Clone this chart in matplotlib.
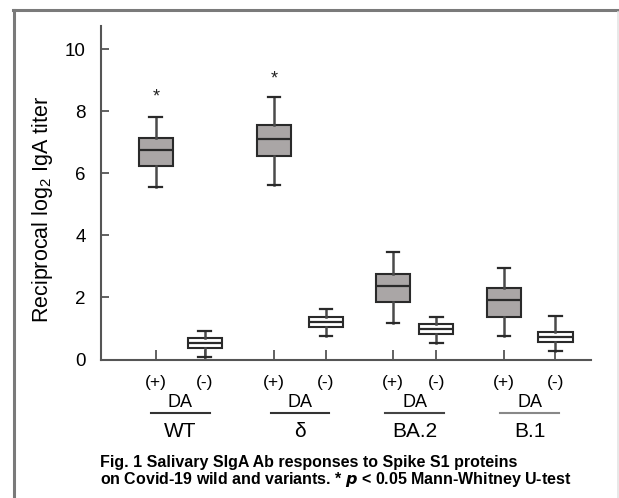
import matplotlib
matplotlib.use("Agg")
import matplotlib.pyplot as plt
from matplotlib.lines import Line2D

plt.rcParams['font.family'] = ['Liberation Sans', 'DejaVu Sans']
plt.rcParams['mathtext.fontset'] = 'custom'
plt.rcParams['mathtext.rm'] = 'Liberation Sans'
plt.rcParams['mathtext.it'] = 'Liberation Sans Narrow:italic:bold'

# box statistics (log2 titer)
groups = ["WT", "δ", "BA.2", "B.1"]
da_labels = ["(+)", "(-)"] * 4
positions = [1.12, 2.12, 3.53, 4.59, 5.96, 6.84, 8.22, 9.27]
whislo = [5.57, 0.09, 5.63, 0.75, 1.19, 0.52, 0.75, 0.27]
q1     = [6.24, 0.38, 6.55, 1.05, 1.84, 0.82, 1.38, 0.57]
med    = [6.76, 0.52, 7.09, 1.21, 2.38, 0.99, 1.92, 0.74]
q3     = [7.15, 0.70, 7.56, 1.37, 2.76, 1.15, 2.31, 0.89]
whishi = [7.80, 0.91, 8.46, 1.63, 3.45, 1.37, 2.96, 1.40]
star_pos = [1.12, 3.53]
star_y = [8.45, 9.05]

fig = plt.figure(figsize=(6.19, 4.98), dpi=100)
ax = fig.add_axes([0.163, 0.278, 0.792, 0.670])

stats = []
for i in range(len(positions)):
    stats.append(dict(whislo=whislo[i], q1=q1[i], med=med[i], q3=q3[i],
                      whishi=whishi[i], fliers=[]))

bp = ax.bxp(stats, positions=positions, widths=0.70, patch_artist=True,
            showfliers=False,
            boxprops=dict(edgecolor='#2a2a2a', linewidth=1.5),
            medianprops=dict(color='#2a2a2a', linewidth=1.6),
            whiskerprops=dict(color='#4a4a4a', linewidth=1.8),
            capprops=dict(color='#2a2a2a', linewidth=1.6), capwidths=0.26)
for i, b in enumerate(bp['boxes']):
    b.set_facecolor('#aaa6a6' if i % 2 == 0 else 'white')

for x, y in zip(star_pos, star_y):
    ax.text(x, y, "*", ha='center', va='center', fontsize=13, color='#222222')

ax.set_xlim(0, 10)
ax.set_ylim(0, 10.75)
ax.set_yticks([0, 2, 4, 6, 8, 10])
ax.set_xticks(positions)
ax.set_xticklabels(da_labels, fontsize=12.5)
ax.tick_params(axis='y', direction='in', length=6, width=1.3, color='#555555',
               labelsize=13.5, pad=11)
ax.tick_params(axis='x', direction='in', length=7, width=1.3, color='#555555',
               pad=11)
for s in ['top', 'right']:
    ax.spines[s].set_visible(False)
for s in ['left', 'bottom']:
    ax.spines[s].set_color('#555555')
    ax.spines[s].set_linewidth(1.5)

ax.set_ylabel("Reciprocal log$_2$ IgA titer", fontsize=15.5)
ax.yaxis.set_label_coords(-0.093, 0.45)

trans = ax.get_xaxis_transform()
line_cols = ['#333333', '#333333', '#444444', '#888888']
for g in range(4):
    cx = (positions[2 * g] + positions[2 * g + 1]) / 2
    ax.text(cx, -0.128, "DA", ha='center', va='center', fontsize=13,
            transform=trans)
    ax.plot([cx - 0.6, cx + 0.6], [-0.160, -0.160], color=line_cols[g],
            lw=1.5, transform=trans, clip_on=False)
    ax.text(cx, -0.215, groups[g], ha='center', va='center', fontsize=15,
            transform=trans)

cap_font = ['Liberation Sans Narrow', 'Liberation Sans']
fig.text(0.162, 0.072, "Fig. 1 Salivary SIgA Ab responses to Spike S1 proteins",
         fontsize=11.5, fontweight='bold', ha='left', va='center', family=cap_font)
fig.text(0.162, 0.038, "on Covid-19 wild and variants. * $p$ < 0.05 Mann-Whitney U-test",
         fontsize=11.5, fontweight='bold', ha='left', va='center', family=cap_font)

# outer frame (left and top edges)
fig.add_artist(Line2D([0.022, 0.022], [0.0, 0.980], color='#7a7a7a', lw=2.2))
fig.add_artist(Line2D([0.021, 1.0], [0.980, 0.980], color='#7a7a7a', lw=2.2))
fig.add_artist(Line2D([0.998, 0.998], [0.0, 0.975], color='#e4e4e4', lw=1.2))

fig.savefig("out.png", dpi=100)
